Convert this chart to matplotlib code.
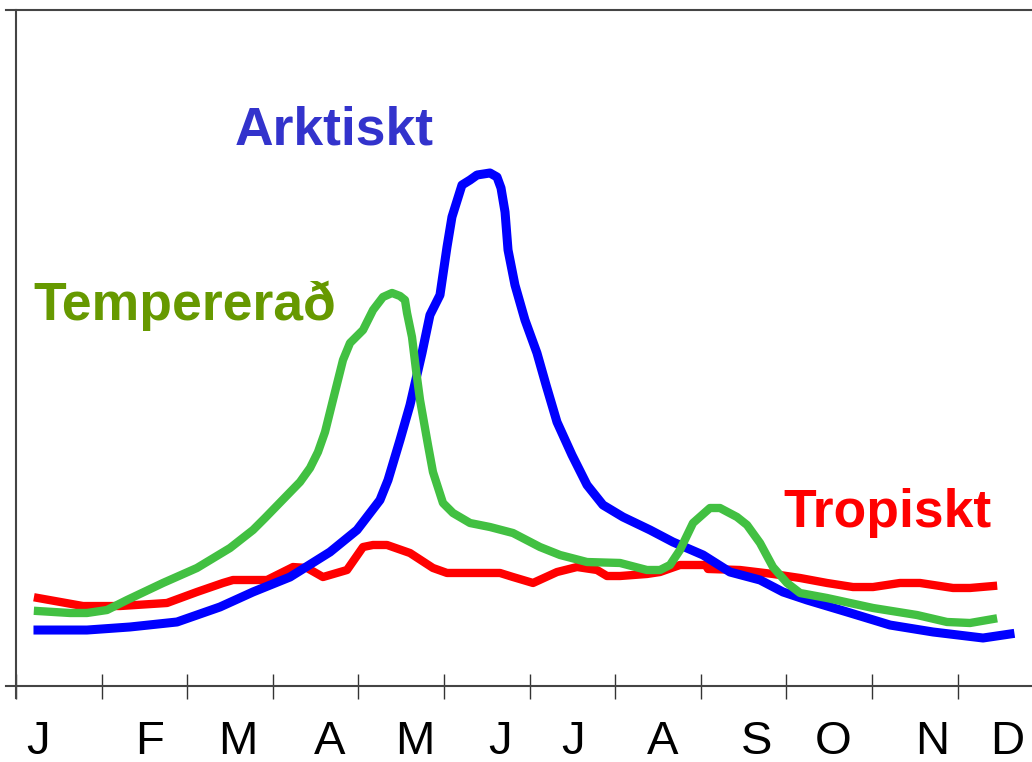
import matplotlib
matplotlib.use("Agg")
import matplotlib.pyplot as plt

# x in months (0 = start of Jan), y in arbitrary units (0-100)
arktiskt_x = [0.257, 0.829, 1.332, 1.881, 2.383, 2.769, 3.201, 3.668, 3.984, 4.252, 4.346, 4.486,
              4.603, 4.743, 4.836, 4.953, 5.035, 5.093, 5.210, 5.304, 5.386, 5.537, 5.619, 5.666,
              5.713, 5.748, 5.829, 5.946, 6.086, 6.192, 6.320, 6.495, 6.671, 6.857, 7.091, 7.407,
              7.675, 8.026, 8.341, 8.692, 8.960, 9.241, 9.708, 10.210, 10.713, 11.297, 11.612]
arktiskt_y = [8.28, 8.28, 8.73, 9.47, 11.69, 13.91, 16.12, 19.82, 23.08, 27.51, 30.47, 36.39,
              41.57, 49.26, 54.88, 57.84, 64.94, 69.38, 74.11, 74.85, 75.59, 75.89, 75.30, 73.67,
              70.12, 64.50, 59.32, 54.14, 49.26, 44.53, 39.05, 34.17, 29.73, 26.78, 25.00, 23.08,
              21.30, 19.38, 16.86, 15.68, 13.91, 12.72, 10.95, 9.02, 7.99, 7.10, 7.69]

tempererad_x = [0.257, 0.631, 0.829, 1.063, 1.297, 1.717, 2.114, 2.500, 2.769, 2.909, 3.318, 3.435,
                3.528, 3.610, 3.703, 3.820, 3.902, 4.054, 4.171, 4.287, 4.393, 4.486, 4.544, 4.568,
                4.626, 4.673, 4.720, 4.813, 4.871, 4.988, 5.105, 5.304, 5.537, 5.806, 6.121, 6.355,
                6.671, 7.056, 7.371, 7.523, 7.640, 7.757, 7.909, 8.107, 8.224, 8.423, 8.540, 8.692,
                8.843, 9.007, 9.159, 9.474, 10.012, 10.526, 10.876, 11.145, 11.414]
tempererad_y = [11.09, 10.80, 10.80, 11.24, 12.72, 15.24, 17.46, 20.41, 23.08, 24.85, 30.18, 32.25,
                34.62, 37.57, 42.31, 48.22, 50.74, 52.66, 55.62, 57.54, 58.14, 57.69, 57.10, 55.18,
                51.63, 46.75, 42.31, 35.65, 31.66, 27.07, 25.59, 24.11, 23.52, 22.63, 20.56, 19.38,
                18.34, 18.20, 17.16, 17.16, 17.90, 20.12, 24.11, 26.33, 26.33, 25.00, 23.82, 21.15,
                17.60, 15.24, 13.76, 13.02, 11.54, 10.50, 9.47, 9.32, 9.91]

tropiskt_x = [0.257, 0.783, 1.215, 1.764, 2.114, 2.418, 2.535, 2.932, 3.236, 3.400, 3.586, 3.867,
              4.054, 4.171, 4.334, 4.603, 4.871, 5.035, 5.654, 5.806, 6.040, 6.320, 6.554, 6.787,
              6.904, 7.056, 7.371, 7.523, 7.757, 8.061, 8.084, 8.458, 8.843, 9.159, 9.474, 9.778,
              10.012, 10.327, 10.561, 10.946, 11.145, 11.414]
tropiskt_y = [13.02, 11.83, 11.83, 12.28, 13.91, 15.24, 15.68, 15.68, 17.60, 17.46, 16.12, 17.16,
              20.56, 20.86, 20.86, 19.67, 17.46, 16.72, 16.72, 16.12, 15.24, 16.86, 17.60, 17.16,
              16.27, 16.27, 16.57, 16.86, 17.90, 17.90, 17.31, 17.16, 16.57, 15.98, 15.24, 14.64,
              14.64, 15.24, 15.24, 14.50, 14.50, 14.79]

month_ticks = list(range(12))
month_labels = ["J", "F", "M", "A", "M", "J", "J", "A", "S", "O", "N", "D"]
month_label_x = [0.257, 1.565, 2.593, 3.668, 4.661, 5.654, 6.507, 7.558, 8.657, 9.544, 10.701, 11.577]

series_names = ["Arktiskt", "Tempererað", "Tropiskt"]
series_label_pos = [(2.558, 80.03), (0.199, 54.14), (8.960, 23.52)]

plt.rcParams['font.family'] = ['Liberation Sans', 'DejaVu Sans']

fig = plt.figure(figsize=(10.32, 7.62), dpi=100)
ax = fig.add_axes([16 / 1032, 76 / 762, 1016 / 1032, 676 / 762])
ax.set_xlim(0, 1016 / 85.6)
ax.set_ylim(0, 100)

ax.plot(tropiskt_x, tropiskt_y, color="#FF0000", lw=6.0, solid_joinstyle="round", zorder=3)
ax.plot(arktiskt_x, arktiskt_y, color="#0000FF", lw=6.5, solid_joinstyle="round", zorder=4)
ax.plot(tempererad_x, tempererad_y, color="#42C042", lw=6.0, solid_joinstyle="round", zorder=5)

label_colors = ["#3333CC", "#669900", "#FF0000"]
for name, (lx, ly), c in zip(series_names, series_label_pos, label_colors):
    ax.text(lx, ly, name, color=c, fontsize=38.5, fontweight="bold", ha="left", va="baseline")

for lx, lab in zip(month_label_x, month_labels):
    ax.text(lx, -0.0825, lab, transform=ax.get_xaxis_transform(), fontsize=34,
            ha="center", va="center", color="black")

ax.set_xticks(month_ticks)
ax.set_xticklabels([])
ax.set_yticks([])
ax.tick_params(axis="x", direction="inout", length=18, width=1.0, color="#333333")

for s in ["left", "top", "bottom"]:
    ax.spines[s].set_color("#444444")
    ax.spines[s].set_linewidth(1.5)
ax.spines["right"].set_visible(False)
ax.spines["top"].set_bounds(-0.12, 1016 / 85.6)
ax.spines["bottom"].set_bounds(-0.12, 1016 / 85.6)
ax.spines["left"].set_bounds(-1.8, 100)

fig.savefig("out.png", dpi=100, facecolor="white")
